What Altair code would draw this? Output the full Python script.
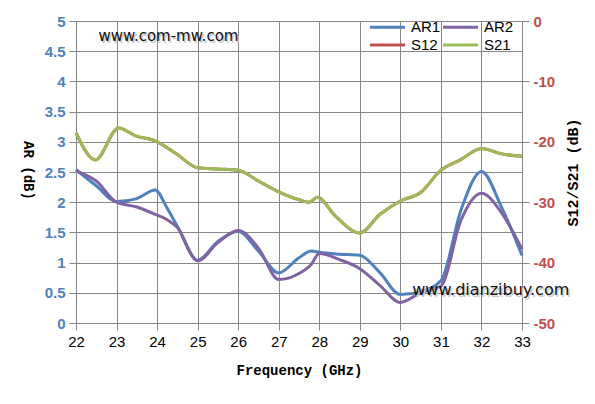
import altair as alt
import pandas as pd

# ---- data ----
ar_freq = [22, 22.5, 23, 23.5, 23.95, 24.25, 24.5, 25, 25.5, 26, 26.5, 27, 27.5, 27.8,
           28, 28.5, 29, 29.5, 30, 30.5, 31, 31.5, 32, 32.5, 33]
ar1 = [2.54, 2.27, 2.01, 2.06, 2.20, 1.90, 1.60, 1.04, 1.35, 1.52, 1.19, 0.83, 1.08, 1.19,
       1.17, 1.14, 1.12, 0.83, 0.47, 0.52, 0.70, 1.88, 2.51, 1.91, 1.12]
ar2 = [2.52, 2.35, 2.00, 1.92, 1.80, 1.71, 1.58, 1.03, 1.33, 1.53, 1.24, 0.72, 0.82, 0.97,
       1.15, 1.05, 0.90, 0.62, 0.34, 0.50, 0.61, 1.71, 2.15, 1.82, 1.22]

s_freq = [22, 22.48, 23.05, 23.5, 23.9, 24, 24.5, 25, 25.5, 26, 26.5, 27, 27.5, 27.75,
          27.95, 28.4, 29, 29.5, 30, 30.5, 31, 31.5, 32, 32.5, 33]
s21 = [-18.5, -23.0, -17.7, -19.1, -19.7, -20.0, -22.1, -24.3, -24.5, -24.7, -26.5, -28.3,
       -29.6, -30.0, -29.2, -32.3, -35.1, -32.0, -29.8, -28.4, -24.7, -22.9, -21.1, -22.0, -22.4]
s12 = list(s21)  # S12 lies under S21 in the reference

series_names = ["AR1", "AR2", "S12", "S21"]
series_colors = ["#4F81BD", "#8064A2", "#C0504D", "#9BBB59"]

wm_text = ["www.com-mw.com", "www.dianzibuy.com"]
wm_x = [24.28, 32.23]
wm_y = [4.75, 0.54]
wm_size = [15, 16]

x_ticks = list(range(22, 34))
ar_ticks = [i * 0.5 for i in range(11)]
s_ticks = [-50, -40, -30, -20, -10, 0]

# ---- tables ----
ar_df = pd.DataFrame(
    {"freq": ar_freq * 2, "val": ar1 + ar2, "series": ["AR1"] * len(ar1) + ["AR2"] * len(ar2)}
)
s_df = pd.DataFrame(
    {"freq": s_freq * 2, "val": s12 + s21, "series": ["S12"] * len(s12) + ["S21"] * len(s21)}
)
wm_df = pd.DataFrame({"x": wm_x, "y": wm_y, "t": wm_text, "fs": wm_size})

xscale = alt.Scale(domain=[22, 33], nice=False)
color = alt.Color(
    "series:N",
    scale=alt.Scale(domain=series_names, range=series_colors),
    legend=alt.Legend(
        title=None, orient="none", legendX=304, legendY=-1.5, columns=2,
        direction="horizontal",
        symbolType="M-3,0H3", symbolSize=136, symbolStrokeWidth=3,
        labelFont="Liberation Sans", labelFontSize=15, labelColor="#000000",
        labelOffset=16, rowPadding=2, columnPadding=-4,
    ),
)

xaxis = alt.Axis(
    values=x_ticks, format="d", grid=True, labelFont="Liberation Sans", labelFontSize=15,
    labelColor="#000000", labelPadding=4, tickSize=7, labelFlush=False,
    title="Frequency (GHz)", titleFont="Liberation Mono", titleFontSize=14,
    titleFontWeight="bold", titleColor="#000000", titleY=47, titleBaseline="middle",
)

ar_line = alt.Chart(ar_df).mark_line(strokeWidth=3, interpolate="monotone").encode(
    x=alt.X("freq:Q", scale=xscale, axis=xaxis),
    y=alt.Y(
        "val:Q", scale=alt.Scale(domain=[0, 5], nice=False),
        axis=alt.Axis(
            values=ar_ticks, grid=True, labelColor="#4F81BD", labelFontWeight="bold",
            labelFont="Liberation Sans", labelFontSize=15, labelPadding=4, tickSize=7,
            labelFlush=False, labelOverlap=False, labelExpr="'' + datum.value",
            title="AR (dB)", titleAngle=90, titleFont="Liberation Mono", titleFontSize=14,
            titleFontWeight="bold", titleColor="#000000", titleX=-49, titleY=149,
            titleAlign="center", titleBaseline="middle",
        ),
    ),
    color=color,
)

s_line = alt.Chart(s_df).mark_line(strokeWidth=3, interpolate="monotone").encode(
    x=alt.X("freq:Q", scale=xscale),
    y=alt.Y(
        "val:Q", scale=alt.Scale(domain=[-50, 0], nice=False),
        axis=alt.Axis(
            orient="right", values=s_ticks, grid=False, labelColor="#C0504D",
            labelFontWeight="bold", labelFont="Liberation Sans", labelFontSize=15,
            labelPadding=4, tickSize=7, labelExpr="'' + datum.value", labelFlush=False,
            title="S12/S21 (dB)", titleAngle=270, titleFont="Liberation Mono",
            titleFontSize=15, titleFontWeight="bold", titleColor="#000000",
            titleX=50, titleY=151, titleAlign="center", titleBaseline="middle",
        ),
    ),
    color=color,
)

wm_scale = alt.Scale(domain=[0, 5], nice=False)
wm_shadow = alt.Chart(wm_df).mark_text(
    font="DejaVu Sans", color="#C8C8C8", dx=1.5, dy=1.5, align="center", baseline="middle"
).encode(
    x=alt.X("x:Q", scale=xscale),
    y=alt.Y("y:Q", scale=wm_scale, axis=None),
    text="t:N", size=alt.Size("fs:Q", scale=None),
)
wm_main = alt.Chart(wm_df).mark_text(
    font="DejaVu Sans", color="#111111", align="center", baseline="middle"
).encode(
    x=alt.X("x:Q", scale=xscale),
    y=alt.Y("y:Q", scale=wm_scale, axis=None),
    text="t:N", size=alt.Size("fs:Q", scale=None),
)
wm = alt.layer(wm_shadow, wm_main)

chart = (
    alt.layer(ar_line, s_line, wm)
    .resolve_scale(y="independent")
    .properties(
        width=446, height=302,
        autosize=alt.AutoSizeParams(type="none"),
        padding={"left": 68, "top": 13, "right": 64, "bottom": 72},
        background="#FFFFFF",
    )
    .configure_view(stroke=None)
    .configure_axis(gridColor="#878787", domainColor="#878787", tickColor="#878787",
                    gridWidth=1, domainWidth=1, labelOverlap=False)
)

chart.save("out.html", embed_options={"renderer": "svg", "actions": False})
